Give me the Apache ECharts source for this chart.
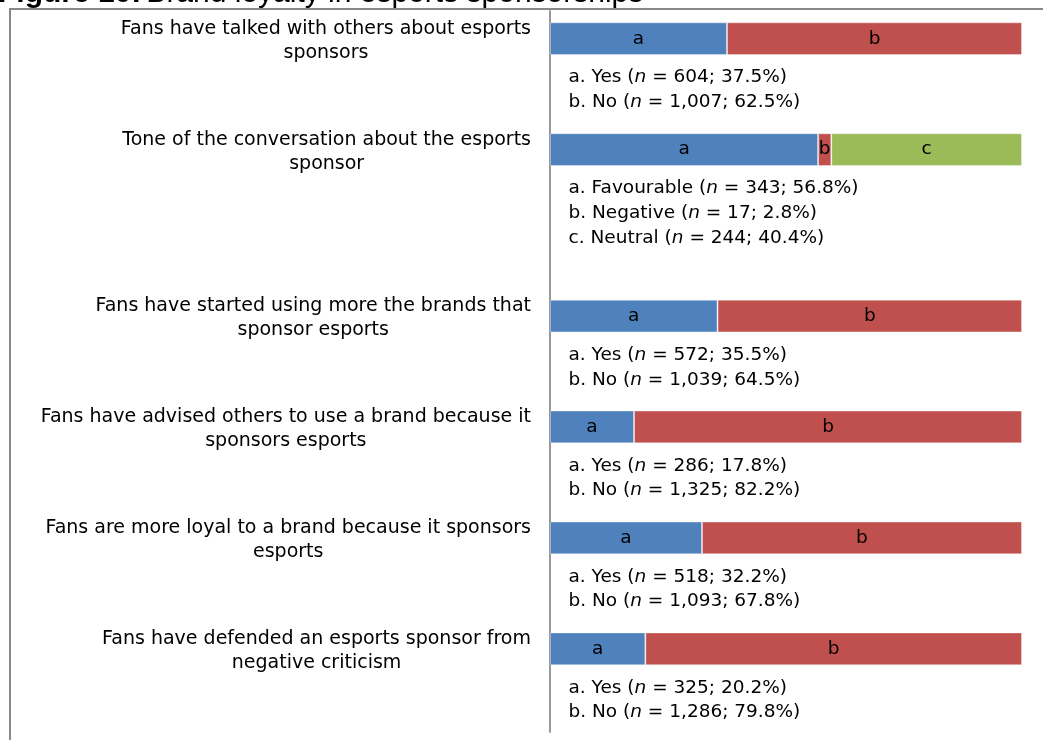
<!DOCTYPE html>
<html>
<head>
<meta charset="utf-8">
<script src="https://cdn.jsdelivr.net/npm/echarts@6/dist/echarts.min.js"></script>
<style>
  html, body { margin: 0; padding: 0; background: #ffffff; }
  #chart { width: 1043px; height: 740px; }
</style>
</head>
<body>
<div id="chart"></div>
<script>
// Survey questions (category labels, with manual line breaks)
const questions = [
  'Fans have talked with others about esports\nsponsors',
  'Tone of the conversation about the esports\nsponsor',
  'Fans have started using more the brands that\nsponsor esports',
  'Fans have advised others to use a brand because it\nsponsors esports',
  'Fans are more loyal to a brand because it sponsors\nesports',
  'Fans have defended an esports sponsor from\nnegative criticism'
];
// Row slot of each question on the category axis (blank slots hold the notes)
const slots = [0, 2, 5, 7, 9, 11];
const slotCount = 13;
// Answer options per question
const answers = [
  ['Yes', 'No'],
  ['Favourable', 'Negative', 'Neutral'],
  ['Yes', 'No'],
  ['Yes', 'No'],
  ['Yes', 'No'],
  ['Yes', 'No']
];
// Respondent counts per answer
const counts = [
  [604, 1007],
  [343, 17, 244],
  [572, 1039],
  [286, 1325],
  [518, 1093],
  [325, 1286]
];
// Share of respondents per answer (%)
const percents = [
  [37.5, 62.5],
  [56.8, 2.8, 40.4],
  [35.5, 64.5],
  [17.8, 82.2],
  [32.2, 67.8],
  [20.2, 79.8]
];
const letters = ['a', 'b', 'c'];
const colors = ['#4F81BD', '#C0504D', '#9BBB59'];

const FONT = '"DejaVu Sans", Verdana, sans-serif';
const LABEL_SIZE = 19;
const NOTE_SIZE = 18.5;

// Category axis entries: question text on its slot, blank elsewhere
const categories = [];
for (let i = 0; i < slotCount; i++) categories.push('');
slots.forEach((s, q) => { categories[s] = questions[q]; });

// One stacked bar series per answer letter
const barSeries = letters.map((letter, k) => {
  const data = new Array(slotCount).fill(null);
  slots.forEach((s, q) => {
    if (percents[q][k] != null) data[s] = percents[q][k];
  });
  return {
    name: letter,
    type: 'bar',
    stack: 'share',
    barWidth: '59%',
    data: data,
    itemStyle: { color: colors[k], borderColor: 'rgba(255,255,255,0.35)', borderWidth: 1 },
    label: {
      show: true,
      position: 'inside',
      formatter: letter,
      color: '#000',
      fontFamily: FONT,
      fontSize: NOTE_SIZE
    },
    emphasis: { disabled: true }
  };
});

// Notes listing each answer with its count and share
function noteText(q) {
  return answers[q].map((ans, k) =>
    '{t|' + letters[k] + '. ' + ans + ' (}{i|n}{t| = ' + counts[q][k].toLocaleString('en-US') +
    '; ' + percents[q][k].toFixed(1) + '%)}'
  ).join('\n');
}
const noteStyle = { fontFamily: FONT, fontSize: NOTE_SIZE, color: '#000', lineHeight: 24.8 };
const noteSeries = {
  type: 'scatter',
  symbolSize: 1,
  itemStyle: { color: 'transparent', opacity: 1 },
  silent: true,
  data: slots.map((s, q) => ({ value: [0, s], note: noteText(q) })),
  label: {
    show: true,
    position: [19, 27],
    align: 'left',
    verticalAlign: 'top',
    formatter: p => p.data.note,
    color: '#000',
    opacity: 1,
    fontFamily: FONT,
    fontSize: NOTE_SIZE,
    lineHeight: 24.8,
    rich: {
      t: noteStyle,
      i: Object.assign({ fontStyle: 'italic' }, noteStyle)
    }
  },
  emphasis: { disabled: true },
  z: 5
};

const chart = echarts.init(document.getElementById('chart'), null, { renderer: 'canvas' });
chart.setOption({
  animation: false,
  backgroundColor: '#ffffff',
  title: {
    text: '{b|Figure 10:} {r|Brand loyalty in esports sponsorships}',
    left: -2,
    top: -21,
    padding: 0,
    textStyle: {
      rich: {
        b: { fontFamily: '"Liberation Sans", Arial, sans-serif', fontSize: 30, lineHeight: 30, fontWeight: 'bold', color: '#000' },
        r: { fontFamily: '"Liberation Sans", Arial, sans-serif', fontSize: 30, lineHeight: 30, fontWeight: 'normal', color: '#000' }
      }
    }
  },
  graphic: [
    { type: 'line', shape: { x1: 9, y1: 9, x2: 1043, y2: 9 }, style: { stroke: '#888', lineWidth: 2 } },
    { type: 'line', shape: { x1: 10, y1: 9, x2: 10, y2: 740 }, style: { stroke: '#888', lineWidth: 2 } }
  ],
  grid: { left: 550, right: 21, top: 11, bottom: 8, containLabel: false },
  xAxis: {
    type: 'value',
    min: 0,
    max: 100,
    show: false
  },
  yAxis: {
    type: 'category',
    inverse: true,
    data: categories,
    axisLine: { show: true, lineStyle: { color: '#999', width: 2 } },
    axisTick: { show: false },
    axisLabel: {
      margin: 19,
      interval: 0,
      color: '#000',
      fontFamily: FONT,
      fontSize: LABEL_SIZE,
      lineHeight: 24,
      align: 'right',
      padding: [4, 0, 0, 0],
      formatter: v => v ? v.split('\n').map(l => '{c|' + l + '}').join('\n') : '',
      rich: {
        c: { align: 'center', fontFamily: FONT, fontSize: LABEL_SIZE, lineHeight: 24, color: '#000' }
      }
    },
    splitLine: { show: false }
  },
  series: barSeries.concat([noteSeries])
});
</script>
</body>
</html>
